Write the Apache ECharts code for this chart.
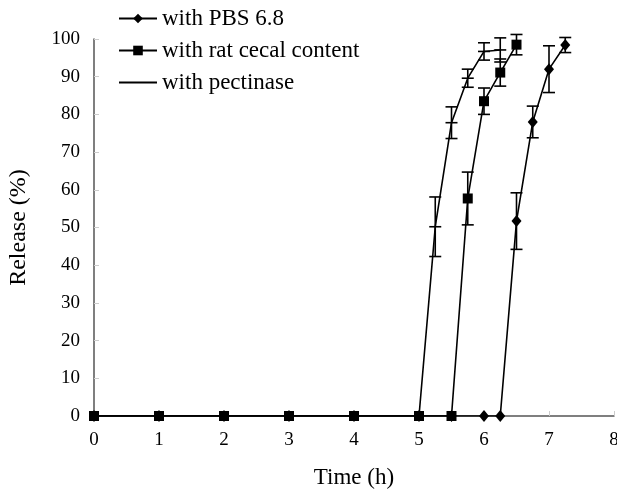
<!DOCTYPE html>
<html><head><meta charset="utf-8">
<script src="https://cdn.jsdelivr.net/npm/echarts@6/dist/echarts.min.js"></script>
<style>html,body{margin:0;padding:0;background:#fff}#c{width:617px;height:492px}</style>
</head><body><div id="c"></div>
<script>
const seriesNames = ['with PBS 6.8', 'with rat cecal content', 'with pectinase'];
const pbsTime  = [0,1,2,3,4,5,5.5,6,6.25,6.5,6.75,7,7.25];
const pbsValue = [0,0,0,0,0,0,0,0,0,51.7,78,92,98.4];
const pbsErr   = [0,0,0,0,0,0,0,0,0,7.5,4.2,6.2,2];
const ratTime  = [0,1,2,3,4,5,5.5,5.75,6,6.25,6.5];
const ratValue = [0,0,0,0,0,0,0,57.7,83.5,91.1,98.5];
const ratErr   = [0,0,0,0,0,0,0,7,3.5,3.6,2.7];
const pecTime  = [0,1,2,3,4,5,5.25,5.5,5.75,6,6.25];
const pecValue = [0,0,0,0,0,0,50.2,77.8,89.6,96.7,97.1];
const pecErr   = [0,0,0,0,0,0,7.9,4.2,2.4,2.3,3.2];
const xTicks = [0,1,2,3,4,5,6,7,8];
const yTicks = [0,10,20,30,40,50,60,70,80,90,100];

const pairs = (t, v) => t.map((x, i) => [x, v[i]]);
const errData = (t, v, e, dash) => t.map((x, i) => [x, v[i], e[i], dash ? 1 : 0]).filter(d => d[2] > 0);

const font = 'Liberation Serif, Times New Roman, serif';
const chart = echarts.init(document.getElementById('c'), null, {renderer: 'canvas'});

function errRender(params, api) {
  const x = api.value(0), y = api.value(1), e = api.value(2), dash = api.value(3);
  const top = api.coord([x, y + e]);
  const bot = api.coord([x, y - e]);
  const mid = api.coord([x, y]);
  const hw = 6;
  const st = {stroke: '#000', lineWidth: 1.6};
  const children = [
    {type: 'line', shape: {x1: top[0], y1: top[1], x2: bot[0], y2: bot[1]}, style: st},
    {type: 'line', shape: {x1: top[0]-hw, y1: top[1], x2: top[0]+hw, y2: top[1]}, style: st},
    {type: 'line', shape: {x1: bot[0]-hw, y1: bot[1], x2: bot[0]+hw, y2: bot[1]}, style: st}
  ];
  if (dash) children.push({type: 'line', shape: {x1: mid[0]-hw, y1: mid[1], x2: mid[0]+hw, y2: mid[1]}, style: st});
  return {type: 'group', children};
}

const lineStyle = {color: '#000', width: 1.6};
chart.setOption({
  animation: false,
  backgroundColor: '#fff',
  grid: {left: 94, right: 3, top: 39, bottom: 76, containLabel: false, outerBoundsMode: 'none'},
  legend: {
    left: 113, top: 2, orient: 'vertical', itemGap: 9, itemWidth: 38, itemHeight: 12,
    textStyle: {fontFamily: font, fontSize: 23, color: '#000', lineHeight: 23},
    data: [
      {name: seriesNames[0]},
      {name: seriesNames[1]},
      {name: seriesNames[2], itemStyle: {opacity: 0}}
    ]
  },
  xAxis: {
    type: 'value', min: 0, max: 8, interval: 1,
    name: 'Time (h)', nameLocation: 'middle', nameGap: 50,
    nameTextStyle: {fontFamily: font, fontSize: 23, color: '#000'},
    axisLine: {lineStyle: {color: '#555', width: 1.5}},
    axisTick: {inside: true, length: 5, lineStyle: {color: '#ccc'}},
    axisLabel: {fontFamily: font, fontSize: 19, color: '#000', margin: 15, formatter: v => xTicks.includes(v) ? String(v) : ''},
    splitLine: {show: false}
  },
  yAxis: {
    type: 'value', min: 0, max: 100, interval: 10,
    name: 'Release (%)', nameLocation: 'middle', nameGap: 63, nameRotate: 90,
    nameTextStyle: {fontFamily: font, fontSize: 24, color: '#000'},
    axisLine: {show: true, lineStyle: {color: '#555', width: 1.5}},
    axisTick: {show: true, inside: true, length: 5, lineStyle: {color: '#ccc'}},
    axisLabel: {fontFamily: font, fontSize: 19, color: '#000', margin: 14, formatter: v => yTicks.includes(v) ? String(v) : ''},
    splitLine: {show: false}
  },
  series: [
    {name: seriesNames[2], type: 'line', data: pairs(pecTime, pecValue), symbol: 'none', lineStyle, itemStyle: {color: '#000'}, z: 2},
    {name: seriesNames[1], type: 'line', data: pairs(ratTime, ratValue), symbol: 'rect', symbolSize: 10, lineStyle, itemStyle: {color: '#000'}, z: 3},
    {name: seriesNames[0], type: 'line', data: pairs(pbsTime, pbsValue), symbol: 'diamond', symbolSize: [10, 12], lineStyle, itemStyle: {color: '#000'}, z: 4},
    {type: 'custom', renderItem: errRender, data: errData(pecTime, pecValue, pecErr, true), z: 5, silent: true},
    {type: 'custom', renderItem: errRender, data: errData(ratTime, ratValue, ratErr, false), z: 5, silent: true},
    {type: 'custom', renderItem: errRender, data: errData(pbsTime, pbsValue, pbsErr, false), z: 5, silent: true}
  ]
});
</script></body></html>
